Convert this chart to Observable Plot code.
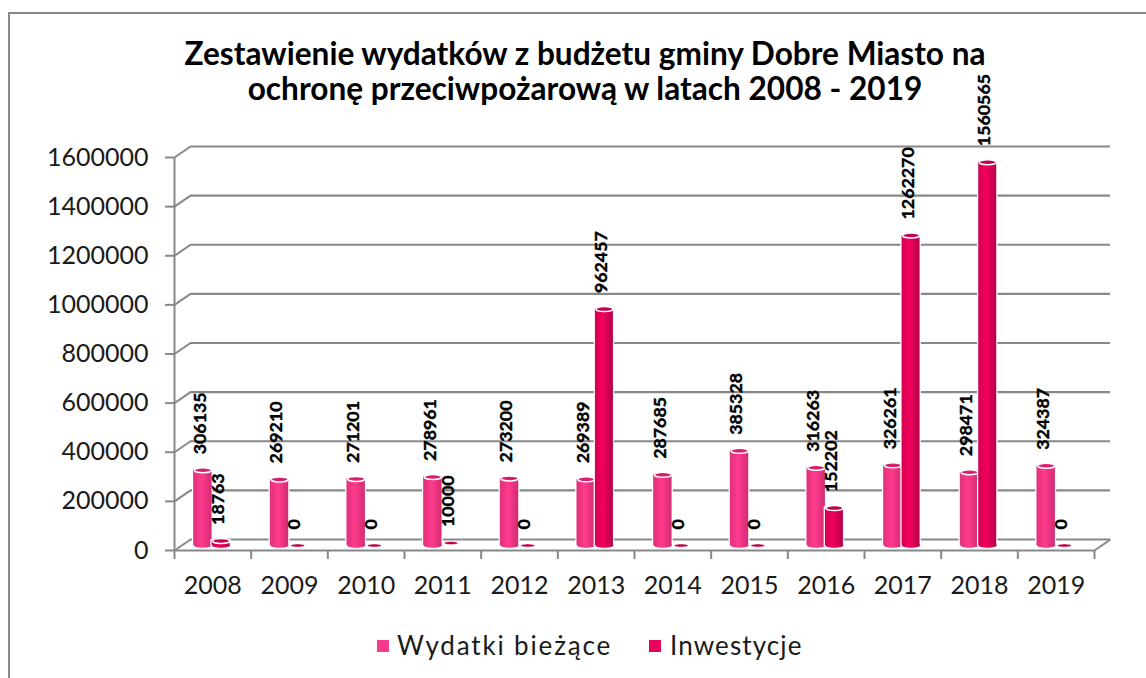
<!DOCTYPE html>
<html lang="pl">
<head>
<meta charset="utf-8">
<script src="https://cdn.jsdelivr.net/npm/d3@7"></script>
<script src="https://cdn.jsdelivr.net/npm/@observablehq/plot@0.6"></script>
<style>
html,body{margin:0;padding:0;background:#fff;overflow:hidden}
#wrap{position:relative;width:1146px;height:678px;overflow:hidden;font-family:Lato,sans-serif;color:#111}
#border{position:absolute;left:8px;top:12px;width:1160px;height:700px;border:2px solid #8a8a8a;box-sizing:border-box}
#title{position:absolute;left:85px;width:1000px;top:36px;text-align:center;font-weight:700;font-size:31.6px;line-height:35px;color:#000}
.lg{position:absolute;top:628px;font-size:26px;line-height:34px;color:#1a1a1a;white-space:nowrap}
.sw{position:absolute;top:640px;width:12px;height:12px}
svg{position:absolute;left:0;top:0;background:transparent}
</style>
</head>
<body>
<div id="wrap">
  <div id="border"></div>
  <div id="chart"></div>
  <div id="title">Zestawienie wydatków z budżetu gminy Dobre Miasto na<br>ochronę przeciwpożarową w latach 2008 - 2019</div>
  <div class="sw" style="left:377px;background:#fb3a8b"></div>
  <div class="lg" style="left:397px;letter-spacing:1.85px">Wydatki bieżące</div>
  <div class="sw" style="left:649px;background:#e9005a"></div>
  <div class="lg" style="left:670px;letter-spacing:1.1px">Inwestycje</div>
</div>
<script>
const years = [2008,2009,2010,2011,2012,2013,2014,2015,2016,2017,2018,2019];
const biezace = [306135,269210,271201,278961,273200,269389,287685,385328,316263,326261,298471,324387];
const inwestycje = [18763,0,0,10000,0,962457,0,0,152202,1262270,1560565,0];
const yTicks = [0,200000,400000,600000,800000,1000000,1200000,1400000,1600000];
const xBounds = d3.range(2007.5, 2020, 1);

const rowsA = years.map((y,i)=>({x1:y-0.25,x2:y-0.01,xc:y-0.13,v:biezace[i]}));
const rowsB = years.map((y,i)=>({x1:y-0.01,x2:y+0.225,xc:y+0.1075,v:inwestycje[i]}));

const ellipse = (rx,ry)=>({draw(c){
  const k=0.5523;
  c.moveTo(-rx,0);
  c.bezierCurveTo(-rx,-k*ry,-k*rx,-ry,0,-ry);
  c.bezierCurveTo(k*rx,-ry,rx,-k*ry,rx,0);
  c.bezierCurveTo(rx,k*ry,k*rx,ry,0,ry);
  c.bezierCurveTo(-k*rx,ry,-rx,k*ry,-rx,0);
  c.closePath();
}});
const defs = ()=>{
  const d=d3.create("svg:defs");
  d.html(`<linearGradient id="gA"><stop offset="0" stop-color="#e0307c"/><stop offset="0.45" stop-color="#ff3b8c"/><stop offset="1" stop-color="#d22c74"/></linearGradient>
  <linearGradient id="gB"><stop offset="0" stop-color="#d40052"/><stop offset="0.45" stop-color="#f2005c"/><stop offset="1" stop-color="#b5004a"/></linearGradient>`);
  return d.node();
};
const grid="#888888";
// depth of the 3D floor, in data units of the two scales
const DX=16,DY=-11,BY=-5;
const depthX=0.209, depthY=44800;
const seriesMarks=(rows,grad,top)=>{
  const big=rows.filter(d=>d.v>10000), flat=rows.filter(d=>d.v<=10000);
  return [
    Plot.rect(big,{x1:"x1",x2:"x2",y1:0,y2:"v",dy:BY,fill:"#fff",stroke:"#fff",strokeWidth:2.5}),
    Plot.dot(big,{x:"xc",y:0,dy:BY,symbol:ellipse(9,2.2),r:5,fill:`url(#${grad})`}),
    Plot.rect(big,{x1:"x1",x2:"x2",y1:0,y2:"v",dy:BY,fill:`url(#${grad})`}),
    Plot.dot(big,{x:"xc",y:"v",dy:BY,symbol:ellipse(8.5,2.5),r:5,fill:top,stroke:"#fff",strokeWidth:1.5}),
    Plot.dot(flat,{x:"xc",y:"v",dy:BY,symbol:ellipse(7,1.6),r:5,fill:top,stroke:"#fff",strokeWidth:0.6}),
    Plot.text(rows,{x:"xc",y:"v",text:d=>String(d.v),rotate:-90,textAnchor:"start",dx:-3,dy:-21,fontSize:17.8,fontWeight:700,fill:"#000",stroke:"#000",strokeWidth:0.4,fontFamily:"Lato"})
  ];
};
const plot=Plot.plot({
  width:1146,height:678,
  marginLeft:174,marginRight:52,marginTop:157,marginBottom:128,
  style:{fontFamily:"Lato",background:"transparent",overflow:"visible"},
  x:{domain:[2007.5,2019.5],axis:null},
  y:{domain:[0,1600000],axis:null},
  marks:[
    defs,
    Plot.ruleY(yTicks,{dx:DX,dy:DY,stroke:grid,strokeWidth:2.2}),
    Plot.link(yTicks,{x1:()=>2007.5,x2:()=>2007.5+depthX,y1:d=>d,y2:d=>d+depthY,stroke:grid,strokeWidth:2}),
    Plot.link([0],{x1:()=>2019.5,x2:()=>2019.5+depthX,y1:d=>d,y2:d=>d+depthY,stroke:grid,strokeWidth:2}),
    Plot.ruleX([2007.5],{y1:0,y2:1600000,stroke:grid,strokeWidth:2}),
    Plot.ruleY([0],{stroke:grid,strokeWidth:2.2}),
    Plot.axisY({ticks:yTicks,label:null,tickFormat:d=>String(d),tickSize:9,tickPadding:17,fontSize:25,stroke:grid,strokeWidth:2,fill:"#1a1a1a"}),
    Plot.axisX({ticks:xBounds,label:null,tickFormat:()=>"",tickSize:9,stroke:grid,strokeWidth:2,anchor:"bottom"}),
    Plot.axisX({ticks:years,label:null,tickFormat:d=>String(d),tickSize:0,tickPadding:26,fontSize:25,fill:"#1a1a1a",anchor:"bottom"}),
    ...seriesMarks(rowsA,"gA","#d81f6d"),
    ...seriesMarks(rowsB,"gB","#c20050"),
  ]
});
document.getElementById("chart").append(plot);
</script>
</body>
</html>
